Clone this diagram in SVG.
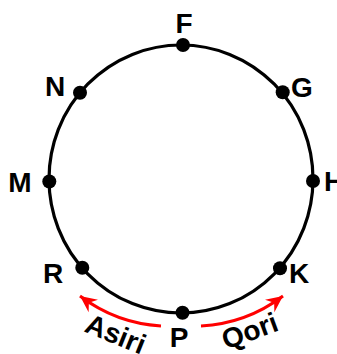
<svg xmlns="http://www.w3.org/2000/svg" width="337" height="354" viewBox="0 0 337 354">
<defs>
<style>
.lbl{font-family:"Liberation Sans",Arial,sans-serif;font-weight:bold;font-size:28px;fill:#000;text-anchor:middle}
.dot{fill:#000}
.arr{fill:none;stroke:#ff0000;stroke-width:3}
</style>
<marker id="ah" markerUnits="userSpaceOnUse" markerWidth="20" markerHeight="20" viewBox="-16 -8 18 16" refX="0" refY="0" orient="auto">
<path d="M0,0 L-15,-7 L-10,0 L-15,7 Z" fill="#ff0000"/>
</marker>
</defs>
<rect width="337" height="354" fill="#fff"/>
<g id="ring"><ellipse cx="181" cy="179" rx="132" ry="134" fill="none" stroke="#000" stroke-width="3.2"/></g>
<g id="connectors">
<path class="arr" d="M 161 326 A 150 150 0 0 1 80 296" marker-end="url(#ah)"/>
<path class="arr" d="M 201 326 A 150 150 0 0 0 283 296" marker-end="url(#ah)"/>
</g>
<g id="F"><circle class="dot" cx="183" cy="45" r="7"/><text class="lbl" x="184" y="33">F</text></g>
<g id="G"><circle class="dot" cx="282.7" cy="92.3" r="7"/><text class="lbl" x="302" y="97">G</text></g>
<g id="H"><circle class="dot" cx="313" cy="181" r="7"/><text class="lbl" x="334" y="191">H</text></g>
<g id="K"><circle class="dot" cx="280" cy="268.3" r="7"/><text class="lbl" x="299" y="283">K</text></g>
<g id="P"><circle class="dot" cx="182.5" cy="312.7" r="7"/><text class="lbl" x="179" y="347">P</text></g>
<g id="R"><circle class="dot" cx="82.3" cy="267.7" r="7"/><text class="lbl" x="53" y="283">R</text></g>
<g id="M"><circle class="dot" cx="49.3" cy="181.5" r="7"/><text class="lbl" x="20" y="192">M</text></g>
<g id="N"><circle class="dot" cx="80" cy="92.7" r="7"/><text class="lbl" x="55" y="96">N</text></g>
<g id="labels">
<text class="lbl" transform="translate(112,343) rotate(22)">Asiri</text>
<text class="lbl" transform="translate(253,340) rotate(-20)">Qori</text>
</g>
</svg>
